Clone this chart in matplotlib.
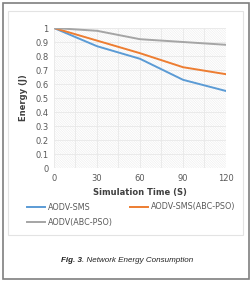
import numpy as np
import matplotlib
matplotlib.use('Agg')
import matplotlib.pyplot as plt
from matplotlib.patches import Rectangle
from matplotlib.text import Annotation

# data
time_s = [0, 30, 60, 90, 120]
aodv_sms = [1.0, 0.87, 0.78, 0.63, 0.55]
aodv_sms_abc = [1.0, 0.91, 0.82, 0.72, 0.67]
aodv_abc = [1.0, 0.98, 0.92, 0.90, 0.88]
names = ['AODV-SMS', 'AODV-SMS(ABC-PSO)', 'AODV(ABC-PSO)']
colors = ['#5B9BD5', '#ED7D31', '#A5A5A5']

plt.rcParams['hatch.linewidth'] = 0.25

W, H = 251, 290
fig = plt.figure(figsize=(W / 100, H / 100), dpi=100)
fig.patch.set_facecolor('white')

def fx(px):
    return px / W

def fy(py):
    return 1 - py / H

# outer figure box
fig.patches.append(Rectangle((fx(3), fy(279)), fx(246), 276 / H, transform=fig.transFigure,
                             fill=False, edgecolor='#7F7F7F', linewidth=1.2))
# inner chart frame
fig.patches.append(Rectangle((fx(8), fy(235)), fx(235), 224 / H, transform=fig.transFigure,
                             fill=False, edgecolor='#E3E3E3', linewidth=0.8))

ax = fig.add_axes([fx(54), fy(168), fx(172), 140 / H])
ax.add_patch(Rectangle((0, 0), 1, 1, transform=ax.transAxes, facecolor='white',
                       edgecolor='#E2E2E2', hatch='\\' * 14, linewidth=0, zorder=0))

for vals, c in zip([aodv_sms, aodv_sms_abc, aodv_abc], colors):
    ax.plot(time_s, vals, color=c, linewidth=1.4, solid_capstyle='round', zorder=3)

ax.set_xlim(0, 120)
ax.set_ylim(0, 1)
ax.set_xticks(time_s)
ax.set_yticks(np.arange(0, 1.01, 0.1))
ax.set_yticklabels(['0', '0.1', '0.2', '0.3', '0.4', '0.5', '0.6', '0.7', '0.8', '0.9', '1'])
ax.set_xticks([15, 45, 75, 105], minor=True)
ax.grid(True, which='both', color='#E8E8E8', linewidth=0.6, zorder=1)
for s in ax.spines.values():
    s.set_visible(False)
ax.tick_params(length=0, labelsize=6, labelcolor='#595959', pad=4)
ax.tick_params(which='minor', length=0)
ax.set_xlabel('Simulation Time (S)', fontsize=6, fontweight='bold', color='#404040', labelpad=4)
ax.set_ylabel('Energy (J)', fontsize=6, fontweight='bold', color='#404040', labelpad=5)

# legend
leg_rows = [(27, 207, 0), (130, 207, 1), (27, 222, 2)]
for x0, y0, i in leg_rows:
    fig.add_artist(plt.Line2D([fx(x0), fx(x0 + 18)], [fy(y0), fy(y0)], color=colors[i],
                              linewidth=1.4, transform=fig.transFigure))
    fig.text(fx(x0 + 21), fy(y0), names[i], fontsize=5.8, color='#595959',
             va='center', ha='left')

# caption
t1 = fig.text(fx(61), fy(262), 'Fig. 3', fontsize=5.8, style='italic', fontweight='bold',
              family='Liberation Sans', va='baseline', ha='left', color='#222222')
fig.add_artist(Annotation('. Network Energy Consumption', xy=(1, 0), xycoords=t1,
                          xytext=(0.3, 0), textcoords='offset points',
                          fontsize=5.8, style='italic', family='Liberation Sans',
                          va='bottom', ha='left', color='#222222'))

fig.savefig('out.png', dpi=100)
